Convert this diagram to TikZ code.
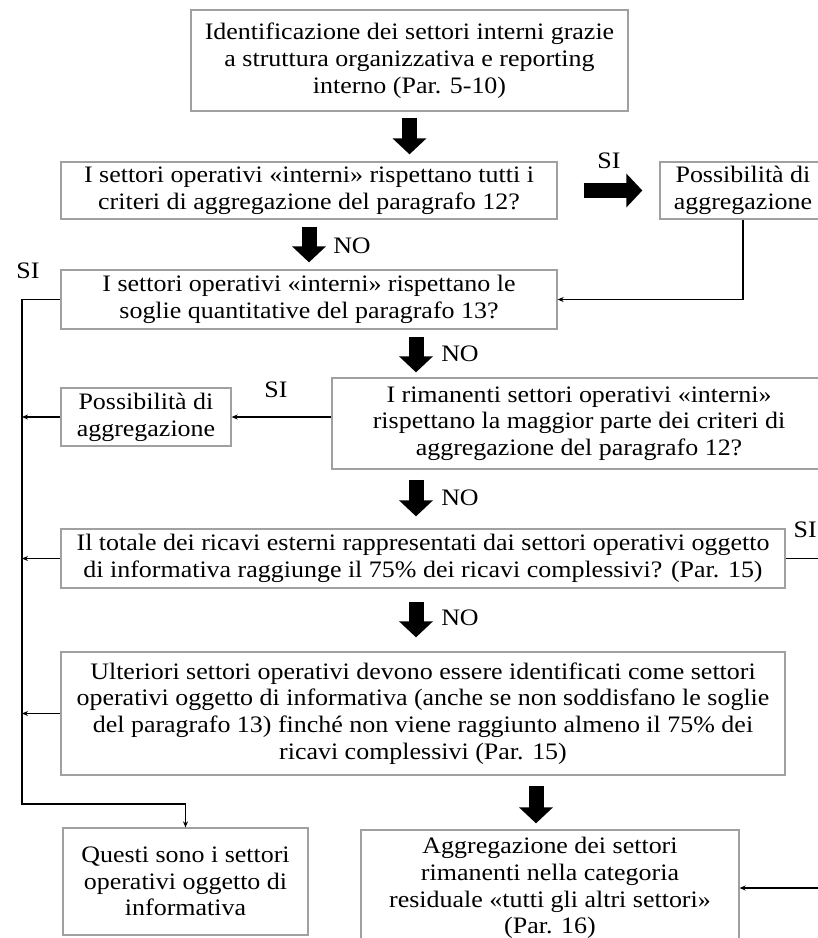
\documentclass[tikz,border=0pt]{standalone}
\usepackage{fontspec}
\setmainfont[FakeStretch=1.1]{Liberation Serif}
\usetikzlibrary{arrows.meta}
\definecolor{boxgray}{RGB}{160,160,160}
\tikzset{
  box/.style={draw=boxgray, line width=1.3pt, align=center, inner sep=0pt, fill=white,
              font=\fontsize{23.6}{26.7}\selectfont},
  lbl/.style={font=\fontsize{23.6}{26.7}\selectfont, inner sep=0pt},
  bigarrow/.style={line width=15pt, -{Triangle[length=16pt,width=33pt]}},
  conn/.style={line width=1.2pt, -{Stealth[length=6pt,width=5pt]}},
  plain/.style={line width=1.2pt}
}
\begin{document}
\begin{tikzpicture}[x=1pt,y=-1pt]
\useasboundingbox[fill=white] (0,0) rectangle (818,938);
\node[box, minimum width=437pt, minimum height=101pt] (b1) at (409.5,60.5)
  {Identificazione dei settori interni grazie\\a struttura organizzativa e reporting\\interno (Par. 5-10)};
\node[box, minimum width=496pt, minimum height=57pt] (b2) at (309,190.5)
  {I settori operativi «interni» rispettano tutti i\\criteri di aggregazione del paragrafo 12?};
\node[box, minimum width=166pt, minimum height=57pt] (b3) at (743,190.5)
  {Possibilità di\\aggregazione};
\node[box, minimum width=496pt, minimum height=59pt] (b4) at (309,299.5)
  {I settori operativi «interni» rispettano le\\soglie quantitative del paragrafo 13?};
\node[box, minimum width=494pt, minimum height=91pt] (b5) at (579,423.5)
  {I rimanenti settori operativi «interni»\\rispettano la maggior parte dei criteri di\\aggregazione del paragrafo 12?};
\node[box, minimum width=170pt, minimum height=58pt] (b6) at (146,417)
  {Possibilità di\\aggregazione};
\node[box, minimum width=724pt, minimum height=59pt] (b7) at (423,558.5)
  {Il totale dei ricavi esterni rappresentati dai settori operativi oggetto\\di informativa raggiunge il 75\% dei ricavi complessivi? (Par. 15)};
\node[box, minimum width=724pt, minimum height=123pt] (b8) at (423,713.5)
  {Ulteriori settori operativi devono essere identificati come settori\\operativi oggetto di informativa (anche se non soddisfano le soglie\\del paragrafo 13) finché non viene raggiunto almeno il 75\% dei\\ricavi complessivi (Par. 15)};
\node[box, minimum width=245pt, minimum height=107pt] (b9) at (185.5,881.5)
  {Questi sono i settori\\operativi oggetto di\\informativa};
\node[box, minimum width=378pt, minimum height=116pt] (b10) at (550,888)
  {Aggregazione dei settori\\rimanenti nella categoria\\residuale «tutti gli altri settori»\\(Par. 16)};

% column coordinates
\coordinate (cA) at (416,0);
\coordinate (cB) at (536,0);
\coordinate (L) at (22,0);
\coordinate (R) at (840,0);

% big arrows
\draw[bigarrow, shorten <=6pt, shorten >=7pt] (b1.south) -- (b1.south |- b2.north);
\draw[bigarrow, shorten <=26pt, shorten >=17pt] (b2.east) -- (b3.west);
\draw[bigarrow, shorten <=7pt, shorten >=7pt] (b2.south) -- (b4.north);
\draw[bigarrow, shorten <=7pt, shorten >=5pt] (cA |- b4.south) -- (cA |- b5.north);
\draw[bigarrow, shorten <=10pt, shorten >=12pt] (cA |- b5.south) -- (cA |- b7.north);
\draw[bigarrow, shorten <=13pt, shorten >=14pt] (cA |- b7.south) -- (cA |- b8.north);
\draw[bigarrow, shorten <=10pt, shorten >=6pt] (cB |- b8.south) -- (cB |- b10.north);

% thin connectors
\draw[conn] (b3.south) |- (b4.east);
\draw[conn] (b5.west |- b6.east) -- (b6.east);
\draw[conn] (b4.west) -| (22,804) -| (b9.north);
\draw[conn] (b6.west) -- (L |- b6.west);
\draw[conn] (b7.west) -- (L |- b7.west);
\draw[conn] (b8.west) -- (L |- b8.west);
\draw[conn] (b7.east) -- (R |- b7.east) |- (b10.east);

% labels
\node[lbl] (l1) at (609,161) {SI};
\node[lbl] (l2) at (352,246) {NO};
\node[lbl] (l3) at (28,271) {SI};
\node[lbl] (l4) at (460,354) {NO};
\node[lbl] (l5) at (276,390) {SI};
\node[lbl] (l6) at (460,498) {NO};
\node[lbl, anchor=east] (l7) at (817,530) {SI};
\node[lbl] (l8) at (460,618) {NO};
\end{tikzpicture}
\end{document}
